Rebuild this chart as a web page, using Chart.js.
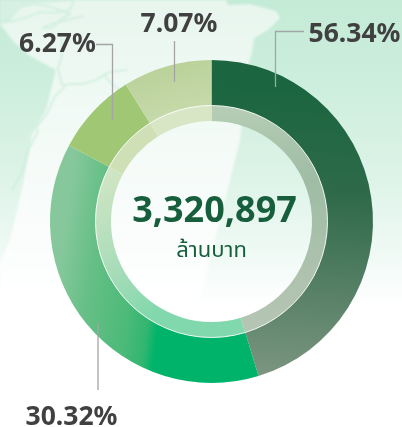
<!DOCTYPE html>
<html><head><meta charset="utf-8">
<style>
html,body{margin:0;padding:0;background:#fff}
#wrap{position:relative;width:402px;height:427px;overflow:hidden;background:linear-gradient(180deg,#c4ebd6 0%,#cdeedd 20%,#dcf3e7 40%,#eef9f4 58%,#ffffff 72%)}
#map{position:absolute;left:0;top:0}
canvas{position:absolute;left:0;top:0}
</style></head><body>
<div id="wrap">
<svg id="map" width="402" height="427" viewBox="0 0 402 427">
<defs>
<linearGradient id="land" x1="0" y1="0" x2="0" y2="1"><stop offset="0" stop-color="#e7f6ee"/><stop offset="0.4" stop-color="#f2faf6"/><stop offset="1" stop-color="#ffffff"/></linearGradient>
<filter id="soft"><feGaussianBlur stdDeviation="0.8"/></filter>
</defs>
<path filter="url(#soft)" fill="#d6f0e3" d="M0 0 L70 0 L40 4 L20 8 L8 20 L0 24 Z"/>
<path filter="url(#soft)" fill="url(#land)" d="M0 24 L8 22 L20 8 L40 3 L75 0 L226 0 L228 5 L250 4 L276 11 L280 18 L268 30 L254 38 L252 52 L248 66 L240 140 L200 300 L0 300 L0 262 L10 240 L22 190 L32 135 L46 110 L56 70 L30 56 L14 42 Z"/>
<g fill="none" stroke="#cdeedd" stroke-width="1.6" stroke-linejoin="round" filter="url(#soft)">
<path d="M8 22 L28 17 L40 12 L55 13 L70 10 L74 0"/>
<path d="M36 4 L48 6 L70 14 L60 20 L52 28 L42 28"/>
<path d="M42 28 L52 24 L66 20 L84 16"/>
<path d="M62 38 L62 55 L58 68 L62 85 L72 84 L82 84 L96 80 L104 75 L110 72 L128 70"/>
<path d="M104 75 L112 84 L122 92"/>
<path d="M66 86 L55 96 L48 112 L36 128 L38 132"/>
<path d="M38 132 L28 150 L22 172 L12 190"/>
</g>
</svg>
<canvas id="c" width="402" height="427"></canvas>
</div>
<script src="https://cdn.jsdelivr.net/npm/chart.js@4/dist/chart.umd.min.js"></script>
<script>
const categories = ["56.34%", "30.32%", "6.27%", "7.07%"];
const sliceShares = [45.3, 37.5, 8.3, 8.9];
const totalLabel = "3,320,897";
const unitLabel = "ล้านบาท";

function lin(ctx, x0, y0, x1, y1, stops) {
  const g = ctx.createLinearGradient(x0, y0, x1, y1);
  stops.forEach(s => g.addColorStop(s[0], s[1]));
  return g;
}
const canvas = document.getElementById('c');
const c2 = canvas.getContext('2d');
const outerFill = [
  lin(c2, 290, 90, 270, 380, [[0, '#1b6640'], [0.35, '#2f6a4a'], [1, '#7d9681']]),
  lin(c2, 50, 336, 155, 350, [[0, '#86c89b'], [0.3, '#66bf86'], [0.7, '#4cba79'], [0.9, '#30b670'], [1, '#00b36a']]),
  '#a0c774',
  lin(c2, 170, 60, 190, 130, [[0, '#bad199'], [1, '#c9dcb0']])
];
const innerFill = [
  lin(c2, 220, 110, 260, 325, [[0, '#b5cdb5'], [0.4, '#9fbca4'], [1, '#b5c5b3']]),
  lin(c2, 100, 180, 175, 300, [[0, '#cfe5c3'], [0.6, '#a8dcb9'], [1, '#82d8ad']]),
  '#cfe0b6',
  '#d9e6c5'
];
const extras = {
  id: 'extras',
  afterDraw(chart) {
    const ctx = chart.ctx;
    const a = chart.getDatasetMeta(0).data[0];
    const cx = a.x, cy = a.y;
    ctx.save();
    ctx.strokeStyle = 'rgba(255,255,255,0.85)';
    ctx.lineWidth = 1;
    ctx.beginPath(); ctx.arc(cx, cy, 116, 0, Math.PI * 2); ctx.stroke();
    ctx.strokeStyle = '#a3a5a4';
    ctx.lineWidth = 1.3;
    const leaders = [
      [[275.5, 87], [275.5, 31.5], [304, 31.5]],
      [[98, 323], [98, 390]],
      [[96, 44.5], [112.5, 44.5], [112.5, 120]],
      [[174.5, 41], [174.5, 82]]
    ];
    leaders.forEach(l => {
      ctx.beginPath();
      l.forEach((p, i) => i ? ctx.lineTo(p[0], p[1]) : ctx.moveTo(p[0], p[1]));
      ctx.stroke();
    });
    ctx.fillStyle = '#404041';
    ctx.textBaseline = 'alphabetic';
    ctx.textAlign = 'center';
    ctx.font = 'bold 26.5px "Noto Sans"';
    const spots = [[354.5, 41.5], [71.5, 425], [57.5, 52], [179, 32]];
    categories.forEach((t, i) => ctx.fillText(t, spots[i][0], spots[i][1]));
    ctx.fillStyle = '#175f3c';
    ctx.font = 'bold 36px "Noto Sans"';
    ctx.fillText(totalLabel, cx + 3, 222);
    ctx.font = '22px "Noto Sans", "Noto Sans Thai"';
    ctx.fillText(unitLabel, cx, 257);
    ctx.restore();
  }
};
new Chart(canvas, {
  type: 'doughnut',
  data: {
    labels: categories,
    datasets: [
      { data: sliceShares, backgroundColor: outerFill, borderWidth: 0, weight: 45.5 },
      { data: sliceShares, backgroundColor: innerFill, borderWidth: 0, weight: 15.5 }
    ]
  },
  options: {
    responsive: false,
    animation: false,
    cutout: 100.5,
    layout: { padding: { left: 50, right: 29, top: 60, bottom: 44 } },
    plugins: { legend: { display: false }, tooltip: { enabled: false } }
  },
  plugins: [extras]
});
</script>
</body></html>
